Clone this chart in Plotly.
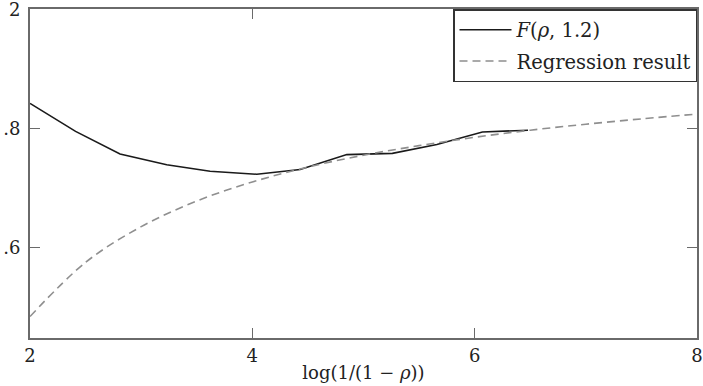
import plotly.graph_objects as go

# F(rho, 1.2) curve
f_x = [2.0, 2.41, 2.81, 3.23, 3.62, 4.04, 4.43, 4.85, 5.26, 5.66, 6.07, 6.48]
f_y = [1.842, 1.795, 1.757, 1.739, 1.728, 1.723, 1.731, 1.756, 1.758, 1.773, 1.794, 1.797]

# Regression result curve
r_x = [2.0, 2.5, 3.0, 3.5, 4.0, 4.5, 5.0, 5.5, 6.0, 6.5, 7.0, 7.5, 8.0]
r_y = [1.484, 1.575, 1.635, 1.678, 1.710, 1.735, 1.755, 1.771, 1.785, 1.797, 1.807, 1.816, 1.824]

x_ticks = [2, 4, 6, 8]
y_ticks = [1.6, 1.8, 2.0]
# tick labels as they appear in the picture (left part cut off in the original)
y_tick_text = [".6", ".8", "2"]

FONT = "DejaVu Serif"

fig = go.Figure()
fig.add_trace(go.Scatter(
    x=f_x, y=f_y, mode="lines",
    name="<i>F</i>(<i>ρ</i>, 1.2)",
    line=dict(color="#1a1a1a", width=1.6),
    legendgroup="a",
))
fig.add_trace(go.Scatter(
    x=r_x, y=r_y, mode="lines", line_shape="spline",
    name="Regression result",
    line=dict(color="#8f8f8f", width=1.6, dash="8px,5px"),
    legendgroup="b",
))

axis_common = dict(
    showline=True, linecolor="#6a6a6a", linewidth=2, mirror="ticks",
    ticks="inside", ticklen=10, tickcolor="#6a6a6a", tickwidth=1.3,
    showgrid=False, zeroline=False,
    tickfont=dict(family=FONT, size=18, color="#222"),
    ticklabeloverflow="allow",
)

fig.update_layout(
    width=703, height=386,
    margin=dict(l=30, r=6, t=9, b=48),
    paper_bgcolor="white", plot_bgcolor="white",
    font=dict(family=FONT, size=18, color="#222"),
    xaxis=dict(
        range=[2, 8], tickvals=x_ticks, ticktext=[str(v) for v in x_ticks],
        title=dict(text="log(1/(1 − <i>ρ</i>))", standoff=2,
                   font=dict(family=FONT, size=18, color="#222")),
        automargin=False,
        **axis_common,
    ),
    yaxis=dict(
        range=[1.448, 2.0005], tickvals=y_ticks, ticktext=y_tick_text,
        automargin=False, ticklabelstandoff=4,
        **axis_common,
    ),
    showlegend=True,
    legend=dict(
        x=1, xanchor="right", y=1, yanchor="top",
        bgcolor="white", bordercolor="#333", borderwidth=1.5,
        font=dict(family=FONT, size=19.5, color="#222"),
        traceorder="grouped", tracegroupgap=3, itemwidth=52,
    ),
)

fig.write_html("out.html")
